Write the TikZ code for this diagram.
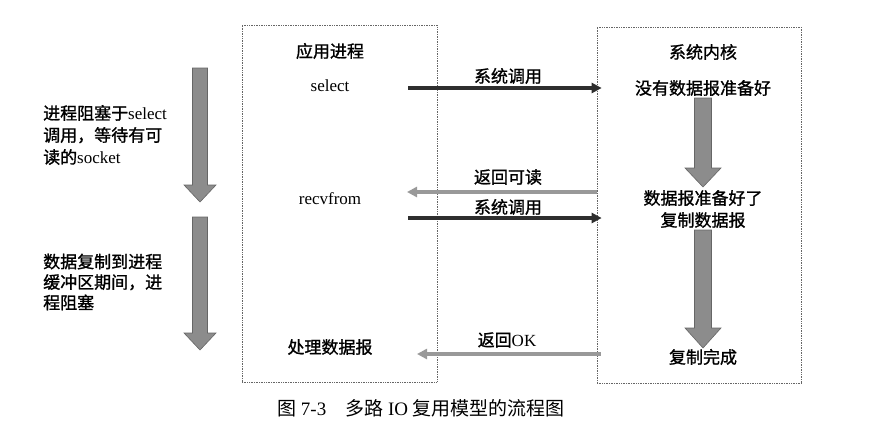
\documentclass[tikz,border=0pt]{standalone}
\usepackage{fontspec}
\setmainfont{Liberation Serif}
\newfontfamily\cjk[FakeBold=1.2]{Noto Sans CJK SC}
\newfontfamily\cjkcap{Noto Sans CJK SC}
\usetikzlibrary{arrows.meta}
\definecolor{callblack}{gray}{0.18}
\definecolor{backgray}{gray}{0.6}
\definecolor{blockgray}{gray}{0.55}
\definecolor{blockedge}{gray}{0.4}
\newcommand{\blockdown}[6]{% x, top, head start, tip, shaft half, head half
	\filldraw[blockarrow] (#1-#5,#2)--(#1+#5,#2)--(#1+#5,#3)--(#1+#6,#3)--(#1,#4)
		--(#1-#6,#3)--(#1-#5,#3)--cycle;}

\begin{document}
\begin{tikzpicture}[x=1pt,y=-1pt,
	box/.style={draw=gray!80!black,densely dotted,line width=0.7pt},
	lbl/.style={font=\fontsize{17}{22}\selectfont,inner sep=0pt},
	caption/.style={font=\fontsize{19}{22}\selectfont,inner sep=0pt},
	callarrow/.style={draw=callblack,line width=3.5pt,-{Triangle[length=10pt,width=10pt]}},
	backarrow/.style={draw=backgray,line width=3.5pt,-{Triangle[length=10pt,width=10pt]}},
	blockarrow/.style={fill=blockgray,draw=blockedge,line width=0.6pt}]
	\useasboundingbox[fill=white] (0,0) rectangle (893,428);

	% the two dotted frames
	\node[box,minimum width=195pt,minimum height=357pt] (appbox) at (339.5,203.5) {};
	\node[box,minimum width=204pt,minimum height=356pt] (kbox) at (699,205) {};

	% application side
	\node[lbl] (app) at (330,51) {\cjk 应用进程};
	\node[lbl] (sel) at (330,86) {select};
	\node[lbl] (recv) at (330,199) {recvfrom};
	\node[lbl] (proc) at (330,347) {\cjk 处理数据报};

	% kernel side
	\node[lbl] (kern) at (703,52) {\cjk 系统内核};
	\node[lbl] (notready) at (703,88) {\cjk 没有数据报准备好};
	\node[lbl,align=center] (ready) at (703,209) {\cjk 数据报准备好了\\\cjk 复制数据报};
	\node[lbl] (done) at (703,357) {\cjk 复制完成};

	% process state on the left
	\node[lbl,align=left,anchor=west] (block1) at (43,135)
		{{\cjk 进程阻塞于}select\\{\cjk 调用，等待有可}\\{\cjk 读的}socket};
	\node[lbl,align=left,anchor=west,font=\fontsize{17}{20.5}\selectfont] (block2) at (43,282)
		{\cjk 数据复制到进程\\\cjk 缓冲区期间，进\\\cjk 程阻塞};

	% calls and returns
	\coordinate (selcall) at (408,88);
	\coordinate (readable) at (407,192);
	\coordinate (recvcall) at (408,218);
	\coordinate (okret) at (417,354);
	\draw[callarrow] (selcall) -- ([xshift=5pt]selcall -| kbox.west);
	\draw[backarrow] (readable -| kbox.west) -- (readable);
	\draw[callarrow] (recvcall) -- ([xshift=5pt]recvcall -| kbox.west);
	\draw[backarrow] ([xshift=4pt]okret -| kbox.west) -- (okret);
	\node[lbl] (call1) at (508,76) {\cjk 系统调用};
	\node[lbl] (ret1) at (508,177) {\cjk 返回可读};
	\node[lbl] (call2) at (508,207) {\cjk 系统调用};
	\node[lbl] (ret2) at (507,340) {{\cjk 返回}OK};

	% block arrows
	\blockdown{200}{68}{185}{202}{7.5}{16}
	\blockdown{200}{217}{333}{350}{7.5}{16}
	\blockdown{703}{98}{168}{187}{8.5}{18}
	\blockdown{703}{230}{328}{348}{8.5}{18}

	\node[caption] (cap) at (421,408) {{\cjkcap 图} 7-3\quad{\cjkcap 多路} IO {\cjkcap 复用模型的流程图}};
\end{tikzpicture}
\end{document}
